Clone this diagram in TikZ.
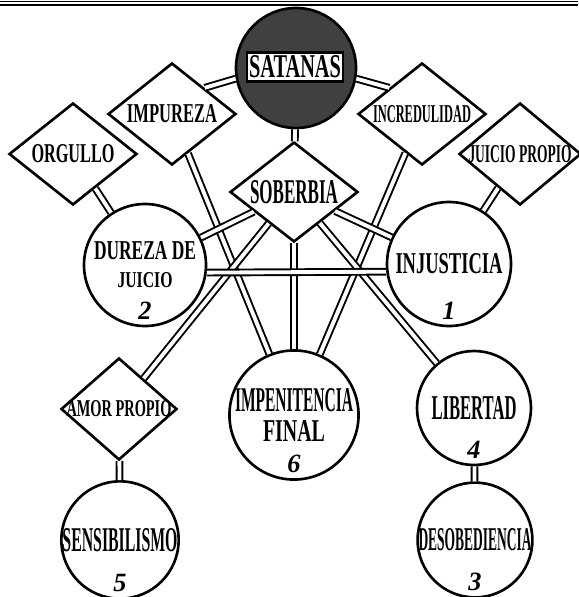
\documentclass[tikz,border=0pt]{standalone}
\usepackage{fontspec}
\setmainfont{Liberation Serif}
\usetikzlibrary{shapes.geometric}
\newcommand{\lbl}[3]{\resizebox{#1cm}{#2cm}{\bfseries #3}}
\begin{document}
\begin{tikzpicture}[x=0.2mm,y=-0.2mm,
  sin/.style={diamond,draw,fill=white,line width=1.5pt,aspect=1.25,inner sep=-2pt,minimum width=2.56cm,minimum height=2.04cm},
  vice/.style={circle,draw,fill=white,line width=1.5pt,inner sep=0pt,align=center,minimum size=2.44cm},
  num/.style={label={[inner sep=0pt,label distance=-0.52cm,font=\fontsize{15}{17}\selectfont\bfseries\itshape]south:#1}},
  link/.style={double,double distance=2.2pt,line width=1.1pt}]
\useasboundingbox (0,0) rectangle (578,597);
\draw[line width=0.4pt] (0,1) -- (578,1);
\draw[line width=1.6pt] (0,5) -- (578,5);
\node[circle,draw,fill=black!75,line width=1.5pt,minimum size=2.4cm] (satanas) at (296,68) {};
\node[draw,fill=white,line width=1.2pt,inner sep=0pt,minimum width=1.92cm,minimum height=0.58cm] (satlabel) at (295,67) {\lbl{1.84}{0.44}{SATANAS}};
\node[sin] (impureza) at (172,114) {\lbl{1.80}{0.36}{IMPUREZA}};
\node[sin] (orgullo) at (73,154) {\lbl{1.66}{0.36}{ORGULLO}};
\node[sin] (incredulidad) at (422,114) {\lbl{1.96}{0.34}{INCREDULIDAD}};
\node[sin,minimum width=2.44cm] (juicio) at (520,154) {\lbl{2.06}{0.34}{JUICIO PROPIO}};
\node[sin,minimum height=2.0cm] (soberbia) at (294,192) {\lbl{1.76}{0.46}{SOBERBIA}};
\node[sin,minimum width=2.32cm] (amor) at (119,409) {\lbl{2.10}{0.32}{AMOR PROPIO}};
\node[vice,num=2] (dureza) at (145,265) {\lbl{2.04}{0.36}{DUREZA DE}\\[4pt]\lbl{1.10}{0.30}{JUICIO}};
\node[vice,num=1,minimum size=2.48cm] (injusticia) at (449,264) {\lbl{2.14}{0.40}{INJUSTICIA}};
\node[vice,num=6,minimum size=2.48cm] (impenitencia) at (294,415) {\lbl{2.36}{0.46}{IMPENITENCIA}\\[4pt]\lbl{1.24}{0.42}{FINAL}};
\node[vice,num=4,minimum size=2.28cm] (libertad) at (474,408) {\lbl{1.70}{0.46}{LIBERTAD}};
\node[vice,num=3,minimum size=2.28cm] (desobediencia) at (475,540) {\lbl{2.26}{0.44}{DESOBEDIENCIA}};
\node[vice,num=5,minimum size=2.32cm] (sensibilismo) at (120,540) {\lbl{2.30}{0.46}{SENSIBILISMO}};
\draw[link] (satanas.190) -- (impureza.north east);
\draw[link] (satanas.-10) -- (incredulidad.north west);
\draw[link] (satanas) -- (soberbia);
\draw[link] (orgullo) -- (dureza);
\draw[link] (juicio) -- (injusticia);
\draw[link] (impureza) -- (impenitencia);
\draw[link] (incredulidad) -- (impenitencia);
\draw[link] (soberbia) -- (impenitencia);
\draw[link] (soberbia) -- (dureza);
\draw[link] (soberbia) -- (injusticia);
\draw[link] (soberbia) -- (amor);
\draw[link] (soberbia) -- (libertad);
\draw[link] (dureza.-7.5) -- (injusticia.187.5);
\draw[link] (amor) -- (sensibilismo);
\draw[link] (libertad) -- (desobediencia);
\end{tikzpicture}
\end{document}
